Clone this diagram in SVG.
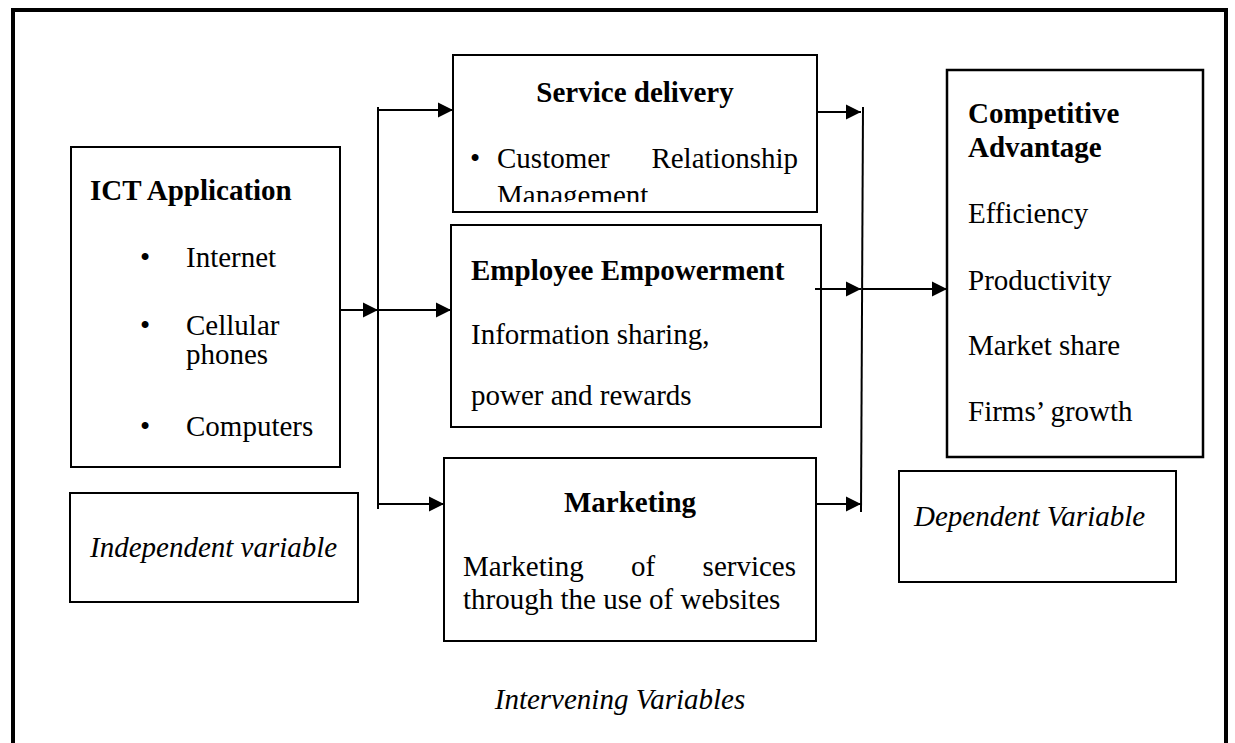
<svg xmlns="http://www.w3.org/2000/svg" width="1235" height="743" viewBox="0 0 1235 743">
<style>
text{font-family:"Liberation Serif","Times New Roman",serif;font-size:29px;fill:#000}
.b{font-weight:bold}
.i{font-style:italic}
.box{fill:#fff;stroke:#000;stroke-width:2}
.ln{fill:none;stroke:#000;stroke-width:2}
</style>
<defs>
<marker id="ah" markerUnits="userSpaceOnUse" markerWidth="16" markerHeight="16" viewBox="0 0 16 16" refX="15" refY="8" orient="auto">
<path d="M0,0.5 L15,8 L0,15.5 Z" fill="#000"/>
</marker>
<clipPath id="clipSD"><rect x="453" y="55" width="364" height="147"/></clipPath>
</defs>
<rect width="1235" height="743" fill="#fff"/>
<path d="M13,743 V10 H1226 V743" fill="none" stroke="#000" stroke-width="4"/>

<g id="ict">
<rect class="box" x="71" y="147" width="269" height="320"/>
<text class="b" x="90" y="200">ICT Application</text>
<text x="140" y="267">•</text><text x="186" y="267">Internet</text>
<text x="140" y="335">•</text><text x="186" y="335">Cellular</text>
<text x="186" y="364">phones</text>
<text x="140" y="436">•</text><text x="186" y="436">Computers</text>
</g>

<g id="independent">
<rect class="box" x="70" y="493" width="288" height="109"/>
<text class="i" x="90" y="557">Independent variable</text>
</g>

<g id="service">
<rect class="box" x="453" y="55" width="364" height="157"/>
<text class="b" x="635" y="102" text-anchor="middle">Service delivery</text>
<text x="470" y="168">•</text>
<text x="497" y="168">Customer</text>
<text x="798" y="168" text-anchor="end">Relationship</text>
<text x="497" y="205" clip-path="url(#clipSD)">Management</text>
</g>

<g id="employee">
<rect class="box" x="451" y="225" width="370" height="202"/>
<text class="b" x="471" y="280">Employee Empowerment</text>
<text x="471" y="344">Information sharing,</text>
<text x="471" y="405">power and rewards</text>
</g>

<g id="marketing">
<rect class="box" x="444" y="458" width="372" height="183"/>
<text class="b" x="630" y="512" text-anchor="middle">Marketing</text>
<text x="463" y="576">Marketing</text>
<text x="631" y="576">of</text>
<text x="796" y="576" text-anchor="end">services</text>
<text x="463" y="609">through the use of websites</text>
</g>

<g id="competitive">
<rect x="947" y="70" width="256" height="387" fill="#fff" stroke="#000" stroke-width="2.5"/>
<text class="b" x="968" y="123">Competitive</text>
<text class="b" x="968" y="157">Advantage</text>
<text x="968" y="223">Efficiency</text>
<text x="968" y="290">Productivity</text>
<text x="968" y="355">Market share</text>
<text x="968" y="421">Firms’ growth</text>
</g>

<g id="dependent">
<rect class="box" x="899" y="471" width="277" height="111"/>
<text class="i" x="914" y="526">Dependent Variable</text>
</g>

<g id="label-intervening">
<text class="i" x="620" y="709" text-anchor="middle">Intervening Variables</text>
</g>

<g id="connectors">
<line class="ln" x1="340" y1="310" x2="378" y2="310" marker-end="url(#ah)"/>
<line class="ln" x1="378" y1="107" x2="378" y2="509"/>
<line class="ln" x1="377" y1="110" x2="453" y2="110" marker-end="url(#ah)"/>
<line class="ln" x1="378" y1="310" x2="451" y2="310" marker-end="url(#ah)"/>
<line class="ln" x1="377" y1="504" x2="444" y2="504" marker-end="url(#ah)"/>
<line class="ln" x1="817" y1="112" x2="861" y2="112" marker-end="url(#ah)"/>
<line class="ln" x1="815" y1="289" x2="861" y2="289" marker-end="url(#ah)"/>
<line class="ln" x1="816" y1="504" x2="861" y2="504" marker-end="url(#ah)"/>
<line class="ln" x1="863" y1="107" x2="861" y2="512"/>
<line class="ln" x1="862" y1="289" x2="947" y2="289" marker-end="url(#ah)"/>
</g>
</svg>
